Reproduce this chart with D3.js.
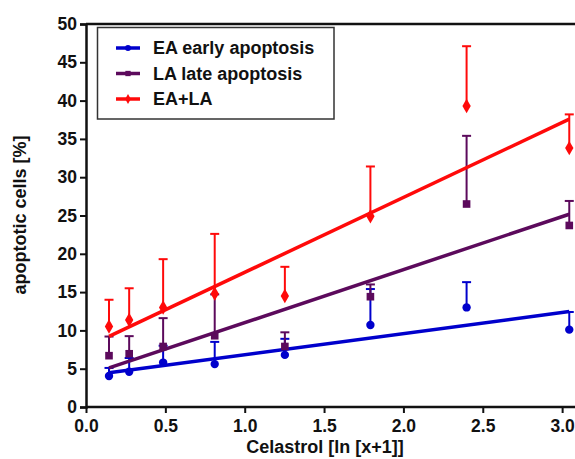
<!DOCTYPE html>
<html><head><meta charset="utf-8">
<script src="https://cdn.jsdelivr.net/npm/d3@7"></script>
<style>
html,body{margin:0;padding:0;background:#fff;}
svg{display:block;font-family:"Liberation Sans",Arial,sans-serif;font-weight:bold;}
</style></head>
<body>
<svg id="chart" width="575" height="459"></svg>
<script>
// Data (x = ln(concentration + 1))
const xValues = [0.145, 0.272, 0.486, 0.811, 1.253, 1.792, 2.398, 3.045];
const eaMean  = [4.05, 4.6, 5.8, 5.6, 6.8, 10.7, 13.0, 10.1];
const eaUpper = [5.1, 6.4, 8.0, 8.5, 8.9, 15.4, 16.3, 12.4];
const laMean  = [6.7, 6.95, 7.9, 9.3, 7.9, 14.4, 26.5, 23.7];
const laUpper = [9.2, 9.25, 11.6, 14.7, 9.75, 16.0, 35.4, 26.9];
const sumMean = [10.5, 11.35, 13.0, 14.8, 14.5, 24.9, 39.3, 33.8];
const sumUpper= [14.0, 15.5, 19.3, 22.6, 18.3, 31.4, 47.1, 38.2];
const seriesNames = ["EA early apoptosis", "LA late apoptosis", "EA+LA"];
const xTicks = [0.0, 0.5, 1.0, 1.5, 2.0, 2.5, 3.0];
const yTicks = [0, 5, 10, 15, 20, 25, 30, 35, 40, 45, 50];

const colors = ["#0000cc", "#5c0a5c", "#ff0a0a"];
const symbols = [d3.symbolCircle, d3.symbolSquare, d3.symbolDiamond];
const symSizes = [55, 58, 60];

const series = [
  {name: seriesNames[0], mean: eaMean, upper: eaUpper},
  {name: seriesNames[1], mean: laMean, upper: laUpper},
  {name: seriesNames[2], mean: sumMean, upper: sumUpper}
];

const svg = d3.select("#chart");
const x = d3.scaleLinear().domain([0, 3.1]).range([86, 578]);
const y = d3.scaleLinear().domain([0, 50]).range([407, 24]);

// linear regression (least squares) of each series
function fit(xs, ys) {
  const n = xs.length, mx = d3.mean(xs), my = d3.mean(ys);
  let sxy = 0, sxx = 0;
  for (let i = 0; i < n; i++) { sxy += (xs[i]-mx)*(ys[i]-my); sxx += (xs[i]-mx)**2; }
  const b = sxy / sxx; return {b, a: my - b*mx};
}

// top frame
svg.append("line").attr("x1", 86).attr("x2", 575).attr("y1", y(50)).attr("y2", y(50))
  .attr("stroke", "#111").attr("stroke-width", 2.5);

// axes
const yAxis = svg.append("g").attr("transform", "translate(86,0)")
  .call(d3.axisLeft(y).tickValues(yTicks).tickSize(6).tickPadding(3).tickFormat(d3.format("d")));
const xAxis = svg.append("g").attr("transform", "translate(0,407)")
  .call(d3.axisBottom(x).tickValues(xTicks).tickSize(6).tickPadding(7).tickFormat(d3.format(".1f")));
[yAxis, xAxis].forEach(g => {
  g.select(".domain").attr("stroke", "#111").attr("stroke-width", 2.5);
  g.selectAll(".tick line").attr("stroke", "#111").attr("stroke-width", 2);
  g.selectAll(".tick text").attr("fill", "#111").style("font-size", "17.5px")
    .style("font-family", "'Liberation Sans',Arial,sans-serif").style("font-weight", "bold");
});
xAxis.select(".domain").attr("d", "M86,0H575");

// axis titles
svg.append("text").attr("x", 325).attr("y", 453).attr("text-anchor", "middle")
  .style("font-size", "18px").attr("fill", "#111").text("Celastrol [ln [x+1]]");
svg.append("text").attr("transform", "translate(26,215) rotate(-90)").attr("text-anchor", "middle")
  .style("font-size", "18px").attr("fill", "#111").text("apoptotic cells [%]");

// draw series
series.forEach((s, i) => {
  const g = svg.append("g");
  const f = fit(xValues, s.mean);
  const x0 = d3.min(xValues), x1 = d3.max(xValues);
  xValues.forEach((xv, j) => {
    g.append("line").attr("x1", x(xv)).attr("x2", x(xv)).attr("y1", y(s.mean[j])).attr("y2", y(s.upper[j]))
      .attr("stroke", colors[i]).attr("stroke-width", 2);
    g.append("line").attr("x1", x(xv)-4.5).attr("x2", x(xv)+4.5).attr("y1", y(s.upper[j])).attr("y2", y(s.upper[j]))
      .attr("stroke", colors[i]).attr("stroke-width", 2);
  });
  g.append("line").attr("x1", x(x0)).attr("x2", x(x1)).attr("y1", y(f.a + f.b*x0)).attr("y2", y(f.a + f.b*x1))
    .attr("stroke", colors[i]).attr("stroke-width", 3.5);
  g.selectAll("path.m").data(xValues).join("path").attr("class", "m")
    .attr("transform", (d, j) => `translate(${x(d)},${y(s.mean[j])})`)
    .attr("d", d3.symbol().type(symbols[i]).size(symSizes[i]))
    .attr("fill", colors[i]);
});

// legend
const lg = svg.append("g");
lg.append("rect").attr("x", 97.5).attr("y", 27.5).attr("width", 236.5).attr("height", 91.5)
  .attr("fill", "#fff").attr("stroke", "#333").attr("stroke-width", 1.5);
series.forEach((s, i) => {
  const yy = 48 + i * 25.5;
  lg.append("line").attr("x1", 116).attr("x2", 140).attr("y1", yy).attr("y2", yy)
    .attr("stroke", colors[i]).attr("stroke-width", 3.5);
  lg.append("path").attr("transform", `translate(128,${yy})`)
    .attr("d", d3.symbol().type(symbols[i]).size(28)).attr("fill", colors[i]);
  lg.append("text").attr("x", 153).attr("y", yy).attr("dy", "0.36em")
    .style("font-size", "18px").attr("fill", "#111").text(s.name);
});
</script>
</body></html>
